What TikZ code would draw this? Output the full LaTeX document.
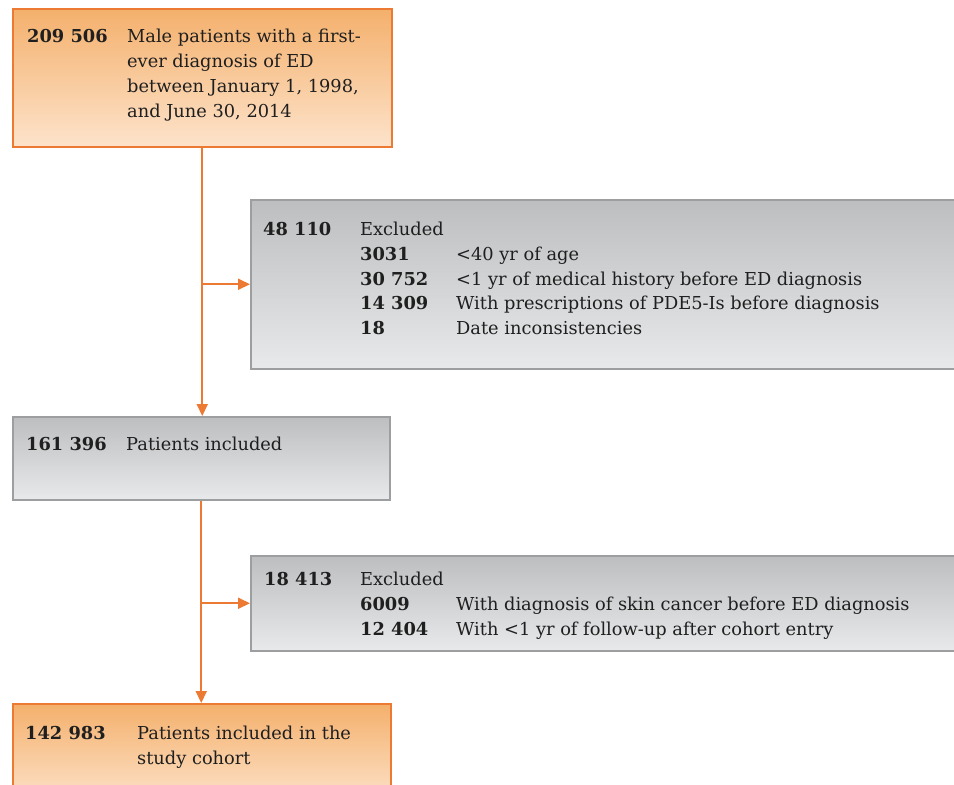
\documentclass[tikz,border=0pt]{standalone}
\usepackage{fontspec}
\setmainfont{DejaVu Serif}
\usetikzlibrary{arrows.meta}

\definecolor{flowor}{HTML}{EC7A33}
\definecolor{ortop}{HTML}{F4B06C}
\definecolor{orbot}{HTML}{FDE3CB}
\definecolor{grline}{HTML}{9D9EA0}
\definecolor{grtop}{HTML}{BDBEC0}
\definecolor{grbot}{HTML}{E8E9EA}

\tikzset{
  orbox/.style={draw=flowor, line width=1.5pt, top color=ortop, bottom color=orbot,
    anchor=north west, inner sep=0pt},
  grbox/.style={draw=grline, line width=1.5pt, top color=grtop, bottom color=grbot,
    anchor=north west, inner sep=0pt},
  num/.style={anchor=base west, inner sep=0pt, font=\fontsize{17.8}{25}\selectfont\bfseries, text=black!88},
  txt/.style={anchor=base west, inner sep=0pt, align=left, font=\fontsize{17.8}{25}\selectfont, text=black!88},
  flow/.style={flowor, line width=2pt, -{Triangle[length=12pt,width=11pt]}}
}

\begin{document}
\begin{tikzpicture}[x=1pt, y=-1pt]
\useasboundingbox (0,0) rectangle (954,785);

% boxes
\node[orbox, minimum width=379pt, minimum height=138pt] (start) at (12,8) {};
\node[grbox, minimum width=720pt, minimum height=169pt] (excla) at (250,199) {};
\node[grbox, minimum width=377pt, minimum height=83pt] (incl) at (12,416) {};
\node[grbox, minimum width=720pt, minimum height=95pt] (exclb) at (250,555) {};
\node[orbox, minimum width=378pt, minimum height=100pt] (cohort) at (12,703) {};

% texts (multi-line nodes sit on their last line)
\path (27,42) node[num] {209 506};
\path (127,117) node[txt] {Male patients with a first-\\ever diagnosis of ED\\between January 1, 1998,\\and June 30, 2014};

\path (263,235) node[num] {48 110};
\path (360,235) node[txt] {Excluded};
\path (360,260) node[num] {3031};
\path (360,285) node[num] {30 752};
\path (360,309) node[num] {14 309};
\path (360,334) node[num] {18};
\path (456,260) node[txt] {<40 yr of age};
\path (456,285) node[txt] {<1 yr of medical history before ED diagnosis};
\path (456,309) node[txt] {With prescriptions of PDE5-Is before diagnosis};
\path (456,334) node[txt] {Date inconsistencies};

\path (26,450) node[num] {161 396};
\path (126,450) node[txt] {Patients included};

\path (264,585) node[num] {18 413};
\path (360,585) node[txt] {Excluded};
\path (360,610) node[num] {6009};
\path (360,635) node[num] {12 404};
\path (456,610) node[txt] {With diagnosis of skin cancer before ED diagnosis};
\path (456,635) node[txt] {With <1 yr of follow-up after cohort entry};

\path (25,739) node[num] {142 983};
\path (137,764) node[txt] {Patients included in the\\study cohort};

% connectors
\draw[flow] (start.south) -- (start.south |- incl.north);
\coordinate (ba) at (start.south |- excla.west);
\draw[flow] (ba) -- (excla.west);
\draw[flow] (incl.south) -- (incl.south |- cohort.north);
\coordinate (bb) at (incl.south |- exclb.west);
\draw[flow] (bb) -- (exclb.west);
\end{tikzpicture}
\end{document}
